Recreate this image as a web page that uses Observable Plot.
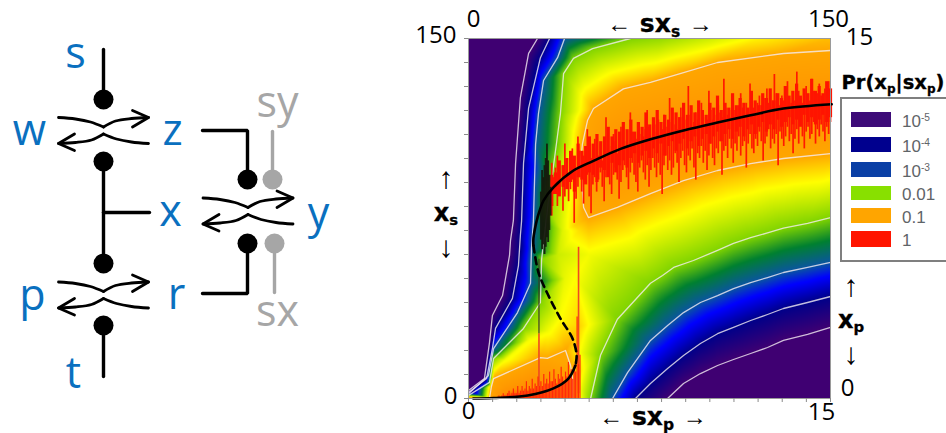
<!DOCTYPE html>
<html><head><meta charset="utf-8">
<script src="https://cdn.jsdelivr.net/npm/d3@7"></script>
<script src="https://cdn.jsdelivr.net/npm/@observablehq/plot@0.6"></script>
<style>
html,body{margin:0;padding:0;background:#fff;overflow:hidden}
#page{position:relative;width:946px;height:433px;overflow:hidden}
#charts{display:flex;position:absolute;left:0;top:0}
svg{display:block;overflow:visible}
.lab{position:absolute;transform:translate(-50%,-50%);white-space:nowrap;line-height:1;color:#000;font-family:"Liberation Sans",sans-serif}
.bold{font-family:"DejaVu Sans",sans-serif;font-weight:700;-webkit-text-stroke:.3px #000}
.bold sub{font-size:.62em;line-height:0;vertical-align:-.3em}
.arr{font:400 24px "Liberation Sans",sans-serif;-webkit-text-stroke:0;vertical-align:.02em}
.leglab{position:absolute;transform:translateY(-50%);font:17px "Liberation Sans",sans-serif;color:#5f6468;line-height:1;white-space:nowrap}
.leglab sup{font-size:.6em;line-height:0;vertical-align:.55em}
.swatch{position:absolute;left:851px;width:40px}
</style></head><body>
<div id="page"><div id="charts"></div></div>
<script>
// ---- heat map: white iso-probability lines as [sx_p, x_p]
const levelM5Left=[[2.86,150],[2.49,143.8],[2.15,125.4],[1.95,97.9],[1.86,74.2],[1.74,65.8],[1.70,59.6],[1.41,42.9],[0.99,34.6],[0.87,23.3],[0.66,8.3],[0,3.3]];
const levelM5Right=[[8.25,0],[8.91,6.25],[9.61,10.4],[10.32,13.75],[10.98,16.25],[11.69,18.75],[12.39,21.25],[13.05,24.2],[14.05,26.7],[15,29.6]];
const levelM4Left=[[3.36,150],[2.98,142],[2.49,121],[2.28,98],[2.2,74],[2.15,68],[2.07,55.4],[1.82,41.7],[1.12,29.2],[0.99,20.8],[0.75,8.3],[0,2.5]];
const levelM4Right=[[6.92,0],[7.54,6.25],[8.25,12.5],[8.91,17.9],[9.61,22.9],[10.32,27],[10.98,29.6],[11.69,32.5],[12.39,35],[13.05,37.5],[14.05,40],[15,42.5]];
const levelM3Left=[[3.98,150],[3.69,142],[3.11,132.5],[2.9,118.75],[2.78,106],[2.69,74],[2.61,62.5],[2.57,48],[2.03,35.8],[1.04,20.8],[0.83,9.6],[0,2]];
const levelM3Right=[[5.97,0],[6.59,10.8],[7.54,24.2],[8.25,30.4],[8.91,35.8],[9.61,40],[10.32,42.9],[10.98,45.8],[11.69,48.3],[12.39,50.4],[13.05,52.5],[14.05,54.6],[15,56.7]];
const levelM2Left=[[6.71,150],[5.14,145.8],[4.35,141.7],[3.94,135.4],[3.81,118.75],[3.48,93.75],[3.27,78.75],[3.03,58],[2.98,40],[2.28,29.2],[1.04,16.7],[0.87,6.7],[0,1.3]];
const levelM2Right=[[5.06,0],[5.47,18],[6.17,33],[7.54,48],[8.04,51.25],[8.5,54.6],[9.32,57.5],[10.32,61.7],[10.98,64.6],[11.69,67],[12.39,69],[13.05,71],[14.05,73],[15,75.4]];
const levelM1Upper=[[15,145],[13.05,143.75],[10.32,140],[8.91,135.8],[7.54,131.7],[6.42,129],[5.18,120.8],[4.93,115.8],[4.72,106],[4.64,97.9],[4.77,79.6],[4.97,75.4],[6.17,79.6],[7.54,85.4],[8.91,90.8],[10.32,95],[11.69,97.9],[13.05,100],[15,102]];
const levelM1Lower=[[0.87,0],[0.95,5],[1.04,8.3],[2.98,17],[3.27,16.7],[4.02,20],[4.23,13.75],[4.31,8.3],[4.31,0]];
// values read between the lines: sx_p, x_p, log10 probability
const innerX=[0,0,0,1,15,15,11,15, 8,10.3,12,15, 5.2,6.3,7.54,8.91,10.32,11.69,13.05,15, 0,1.5,3,3.9,2.5,3.5,1.5, 4.4,4.6,4.6,5, 1.5,2.5,3.3,3.8, 4.4,3.9,3.7,4.0];
const innerY=[150,90,50,150,0,15,0,150, 150,150,150,150, 99,104,108,112,115,118,121,122.5, 0,0,0,0,8,10,5, 50,30,70,60, 16,24.5,28,33, 72,70,60,50];
const innerV=[-7,-7,-7,-6,-6.5,-5.6,-6,-1.1, -1.9,-1.6,-1.35,-1.1, -0.35,-0.35,-0.35,-0.35,-0.35,-0.35,-0.35,-0.35, -0.4,-0.1,-0.1,-0.4,-0.5,-0.6,-0.6, -1.4,-1.2,-1.25,-1.45, -1.45,-1.45,-1.45,-1.4, -1.2,-1.55,-1.65,-1.5];
const colorStops=[-5,-4,-3.4,-3,-2.5,-2,-1.4,-1,-0.3,0];
const colorValues=["#3f0072","#00008a","#0000ff","#0a55a0","#008030","#80d400","#ffff00","#ffa600","#ff9000","#ff2000"];

// ---- deterministic steady-state curve
const curveUpper=[[15.05,122.6],[13.05,120.8],[11.69,118],[10.32,115],[8.91,111.7],[7.54,108],[6.3,104],[5.18,99],[4.35,95],[3.52,88],[3.11,82.5],[2.86,75.4],[2.78,72],[2.69,66.7],[2.69,63.75]];
const curveDashed=[[2.69,63.75],[2.9,52.5],[3.27,43.75],[3.81,33.3],[4.31,25],[4.48,18],[4.43,13.75]];
const curveLower=[[4.43,13.75],[4.14,8.3],[3.52,4.2],[2.45,1.25],[1.04,0.2],[0.2,0]];

// ---- stochastic trace (evenly spaced columns from sx_p = 3.45 to 15)
const noiseHigh=[98,92,96,101,94,90,97,106,99,93,96,104,100,95,109,103,97,101,99,112,105,100,102,108,104,101,106,99,104,117,108,103,105,110,107,102,106,113,109,104,107,105,119,111,106,108,115,110,107,109,112,120,113,108,110,114,111,116,109,112,118,113,110,125,115,111,114,112,117,121,114,112,116,130,118,113,115,119,116,114,123,117,114,116,128,120,116,118,115,122,119,117,133,121,118,120,117,124,120,118,122,127,121,119,123,120,131,124,121,119,123,126,122,120,125,129,123,121,124,135,127,123,122,126,124,129,132,125,123,127,124,136,128,125,123,127,130,126,124,133,128,125,127,131,126,124,129,127,132,128];
const noiseLow=[76,85,88,80,86,90,78,84,89,82,87,91,73,83,88,92,86,81,90,93,84,77,89,92,86,91,94,88,82,92,95,89,85,93,96,91,83,90,95,97,92,87,94,98,93,90,86,96,99,94,91,97,88,95,100,96,92,98,93,85,97,101,95,99,93,96,102,98,90,100,103,97,94,101,99,104,96,91,102,100,105,98,103,95,101,106,100,97,104,102,107,93,103,105,100,108,104,98,106,103,109,101,105,107,96,106,110,104,102,108,105,111,107,99,106,109,112,104,108,106,110,97,111,108,105,109,113,107,110,102,108,112,106,114,109,104,111,113,108,110,115,106,112,109,114,111,107,113,110,115];
// denser core of the trace (wider evenly spaced columns)
const coreHigh=[93,94,99,97,100,103,101,106,103,105,109,106,110,107,109,113,109,112,111,115,112,116,111,115,113,119,114,117,120,115,118,116,121,119,117,123,118,122,119,124,120,118,123,121,126,120,123,121,127,122,125,123,121,128,124,122,127,125,129,124,127,125,130,126,128,131,126,129,127,133,128,130,127,132,129];
const coreLow=[80,85,84,88,87,90,86,92,91,89,94,93,90,96,95,92,98,94,97,99,96,100,102,98,101,103,100,104,102,106,101,105,107,103,106,108,104,107,109,105,108,110,106,109,111,107,110,112,108,111,113,109,112,114,110,113,115,111,114,112,116,113,115,117,114,116,113,118,115,117,114,116,118,115,117];
// lower branch trace (columns from sx_p = 1.2, spacing 0.06)
const lowNoiseHigh=[0.5,1,0.5,1,2,1,1,2,3,1,2,4,2,2,5,2,3,5,3,4,7,3,5,4,8,4,6,5,9,5,7,5,10,6,8,6,11,7,7,12,8,6,10,8,13,9,7,11,9,15,10,12,8,14,11,34,14,18];
// dark part of the trace near the fold
const darkX=[3.0,3.05,3.1,3.15,3.2,3.25,3.3,3.35,3.4];
const darkLow=[66,62,64,60,63,67,65,70,76];
const darkHigh=[86,95,92,97,100,106,99,93,88];
// single long excursions
const spikeX=[2.92,4.56];
const spikeLow=[5,2];
const spikeHigh=[27,63];
const darkSpikeLow=[27]; const darkSpikeHigh=[58];

// ---- axis labels
const xTicks=d3.range(0,16);
const yTicks=d3.range(0,151,10);
const cornerLabels=[
 {t:"150",x:0,y:150,dx:-12,dy:-3,a:"end"},{t:"0",x:0,y:0,dx:-18,dy:-2,a:"middle"},
 {t:"0",x:0,y:0,dx:0,dy:13,a:"middle"},{t:"15",x:15,y:0,dx:-9,dy:14,a:"middle"},
 {t:"0",x:0,y:150,dx:5,dy:-19,a:"middle"},{t:"150",x:15,y:150,dx:-2,dy:-19,a:"middle"},
 {t:"15",x:15,y:150,dx:29,dy:-1,a:"middle"},{t:"0",x:15,y:0,dx:17,dy:-10,a:"middle"}];
const legendLabels=["10<sup>-5</sup>","10<sup>-4</sup>","10<sup>-3</sup>","0.01","0.1","1"];
const legendColors=["#3d0b78","#00008e","#0a3fa5","#88e000","#ffa500","#ff1500"];

// ---- network diagram (schematic units)
const nodeLabels=[{t:"s",x:75,y:54},{t:"w",x:29,y:131},{t:"z",x:172,y:131},{t:"x",x:170,y:212},{t:"y",x:318,y:214},{t:"p",x:32,y:296},{t:"r",x:176,y:295},{t:"t",x:73,y:374}];
const inputLabels=[{t:"sy",x:277,y:103},{t:"sx",x:277,y:312}];
const blackDots=[[103,99],[103,161],[103,263],[103,325],[247,179],[247,243]];
const grayDots=[[272,179],[274,243]];
const blackWires=[[[103,49],[103,99]],[[103,161],[103,263]],[[103,212],[149,212]],[[103,325],[103,376]],[[202,130],[247,130],[247,179]],[[202,293],[247,293],[247,243]]];
const grayWires=[[[272,131],[272,179]],[[274,243],[274,292]]];
const switchCentres=[[103,130],[103,294.5],[247.5,210.5]];

function seg(arr,id){return arr.map(([x,y])=>({x,y,id}));}

// diagram
const switchPaths=switchCentres.flatMap(([cx,cy],i)=>[
 seg([[cx-45,cy-13],[cx-28,cy-11.5],[cx-13,cy-8.5],[cx,cy-3.5]],"a"+i),
 seg([[cx,cy-3.5],[cx+12,cy-9.5],[cx+28,cy-12],[cx+45,cy-13]],"b"+i),
 seg([[cx+45,cy+13],[cx+28,cy+11.5],[cx+13,cy+8.5],[cx,cy+3.5]],"c"+i),
 seg([[cx,cy+3.5],[cx-12,cy+9.5],[cx-28,cy+12],[cx-45,cy+13]],"d"+i)]).flat();
const arrowHeads=switchCentres.flatMap(([cx,cy],i)=>[
 seg([[cx+29,cy-20],[cx+45,cy-13],[cx+29,cy-3.5]],"e"+i),
 seg([[cx-29,cy+20],[cx-45,cy+13],[cx-29,cy+3.5]],"f"+i)]).flat();
const wire=(list,col)=>list.map(w=>Plot.line(w,{x:d=>d[0],y:d=>d[1],stroke:col,strokeWidth:3.4,strokeLinecap:"round",strokeLinejoin:"miter"}));
const diagram=Plot.plot({width:405,height:433,margin:0,
 x:{domain:[0,405],range:[0,405],axis:null},y:{domain:[0,433],range:[0,433],axis:null},
 marks:[
  ...wire(grayWires,"#a6a6a6"),
  ...wire(blackWires,"#000"),
  Plot.dot(grayDots,{x:d=>d[0],y:d=>d[1],r:10,fill:"#a6a6a6"}),
  Plot.dot(blackDots,{x:d=>d[0],y:d=>d[1],r:10,fill:"#000"}),
  Plot.line(switchPaths,{x:"x",y:"y",z:"id",stroke:"#000",strokeWidth:2.8,curve:"catmull-rom",strokeLinecap:"round"}),
  Plot.line(arrowHeads,{x:"x",y:"y",z:"id",stroke:"#000",strokeWidth:2.8,strokeLinecap:"round"}),
  Plot.text(nodeLabels,{x:"x",y:"y",text:"t",fill:"#0a70bf",fontSize:43,fontFamily:"Open Sans"}),
  Plot.text(inputLabels,{x:"x",y:"y",text:"t",fill:"#a6a6a6",fontSize:43,fontFamily:"Open Sans"})
 ]});

// heat map samples
const levels=[[levelM5Left,-5],[levelM5Right,-5],[levelM4Left,-4],[levelM4Right,-4],[levelM3Left,-3],[levelM3Right,-3],[levelM2Left,-2],[levelM2Right,-2],[levelM1Upper,-1],[levelM1Lower,-1]];
const samples=levels.flatMap(([l,v])=>l.map(([x,y])=>({x,y,v}))).concat(innerX.map((x,i)=>({x,y:innerY[i],v:innerV[i]})));
const lines=levels.flatMap(([l],i)=>l.map(([x,y])=>({x,y,id:i})));
const noise=noiseHigh.map((h,i)=>({x:3.45+i*(11.55/(noiseHigh.length-1)),lo:noiseLow[i],hi:h}));
const core=coreHigh.map((h,i)=>({x:3.45+i*(11.55/(coreHigh.length-1)),lo:coreLow[i],hi:h}));
const lowNoise=lowNoiseHigh.map((h,i)=>({x:1.2+i*0.06,lo:0,hi:h}));
const dark=darkX.map((x,i)=>({x,lo:darkLow[i],hi:darkHigh[i]}));
const spikes=spikeX.map((x,i)=>({x,lo:spikeLow[i],hi:spikeHigh[i]}));
const darkSpike=[{x:spikeX[0],lo:darkSpikeLow[0],hi:darkSpikeHigh[0]}];
const curve=(pts,o={})=>Plot.line(pts,{x:d=>d[0],y:d=>d[1],stroke:"#000",strokeWidth:2.6,curve:"catmull-rom",...o});

const heat=Plot.plot({width:541,height:433,marginLeft:63,marginRight:116,marginTop:38,marginBottom:35,
 x:{domain:[0,15],axis:null},y:{domain:[0,150],axis:null},
 color:{type:"linear",domain:colorStops,range:colorValues,clamp:true},
 marks:[
  Plot.raster(samples,{x:"x",y:"y",fill:"v",interpolate:"barycentric",pixelSize:1,x1:0,x2:15,y1:0,y2:150}),
  Plot.line(lines,{x:"x",y:"y",z:"id",stroke:"#f4ecf4",strokeWidth:1.3,strokeOpacity:.8}),
  Plot.ruleX(spikes,{x:"x",y1:"lo",y2:"hi",stroke:"#f04a20",strokeWidth:1.6}),
  Plot.ruleX(darkSpike,{x:"x",y1:"lo",y2:"hi",stroke:"#3a3a2a",strokeWidth:1.2}),
  Plot.ruleX(lowNoise,{x:"x",y1:"lo",y2:"hi",stroke:"#ff2a08",strokeWidth:1.2}),
  Plot.ruleX(noise,{x:"x",y1:"lo",y2:"hi",stroke:"#ff1a00",strokeWidth:1.7}),
  Plot.ruleX(core,{x:"x",y1:"lo",y2:"hi",stroke:"#ff1400",strokeWidth:3.2}),
  Plot.ruleX(dark,{x:"x",y1:"lo",y2:"hi",stroke:"#15180c",strokeWidth:1.9,strokeOpacity:.9}),
  curve(curveUpper),
  curve(curveDashed,{strokeDasharray:"7,5"}),
  curve(curveLower),
  Plot.frame({stroke:"#9a9a9a",strokeWidth:1}),
  Plot.axisX({anchor:"bottom",ticks:xTicks,tickSize:4,tickFormat:()=>"",stroke:"#8a8a8a",label:null}),
  Plot.axisY({anchor:"left",ticks:yTicks,tickSize:4,tickFormat:()=>"",stroke:"#8a8a8a",label:null}),
  ...cornerLabels.map(l=>Plot.text([l],{x:"x",y:"y",text:"t",dx:l.dx,dy:l.dy,textAnchor:l.a,fontSize:24,fontFamily:"Open Sans",fill:"#000"}))
 ]});

const charts=document.getElementById("charts");
charts.append(diagram,heat);
const page=document.getElementById("page");
function addLab(html,x,y,cls,size){const s=document.createElement("span");s.className="lab "+(cls||"");s.style.left=x+"px";s.style.top=y+"px";s.style.fontSize=size+"px";s.innerHTML=html;page.append(s);}
addLab('<span class="arr">←</span> sx<sub>s</sub> <span class="arr">→</span>',660,24,"bold",25);
addLab('<span class="arr">←</span> sx<sub>p</sub> <span class="arr">→</span>',653,417,"bold",25);
addLab("↑",446,178,"",30);addLab("x<sub>s</sub>",446,213,"bold",24);addLab("↓",446,247,"",30);
addLab("↑",851,286,"",30);addLab("x<sub>p</sub>",851,320,"bold",24);addLab("↓",851,354,"",30);
addLab("Pr(x<sub>p</sub>|sx<sub>p</sub>)",893,83,"bold",19.5);
const box=document.createElement("div");
box.style.cssText="position:absolute;left:840px;top:97px;width:120px;height:161px;border:2px solid #7f7f7f";
page.append(box);
const swY=[112,137,162,186,208,231],swH=[15,15,15,14,15,16];
legendLabels.forEach((t,i)=>{
 const s=document.createElement("div");s.className="swatch";s.style.top=swY[i]+"px";s.style.height=swH[i]+"px";s.style.background=legendColors[i];page.append(s);
 const l=document.createElement("span");l.className="leglab";l.style.left="902px";l.style.top=(swY[i]+swH[i]/2+1)+"px";l.innerHTML=t;page.append(l);
});
</script></body></html>
